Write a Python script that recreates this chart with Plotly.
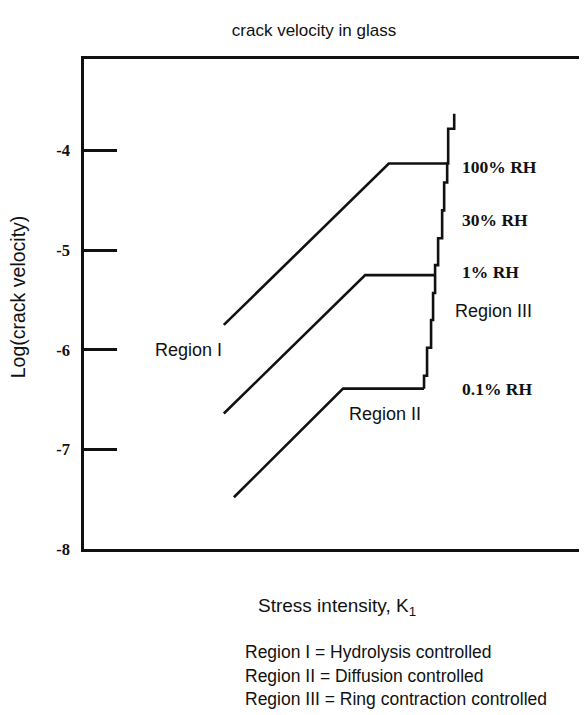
import plotly.graph_objects as go

# ---- data ----
# Stress intensity (arbitrary units) vs log(crack velocity)
k_rh100 = [2.78, 6.06, 7.22]
v_rh100 = [-5.75, -4.13, -4.13]

k_rh1 = [2.78, 5.59, 6.98]
v_rh1 = [-6.64, -5.25, -5.25]

k_rh01 = [2.98, 5.15, 6.76]
v_rh01 = [-7.48, -6.39, -6.39]

# Region III: steep, stepped common branch (bottom to top)
k_region3 = [6.76, 6.82, 6.90, 6.94, 6.98, 7.04, 7.12, 7.16, 7.22, 7.24, 7.36, 7.36]
v_region3 = [-6.39, -6.26, -5.98, -5.70, -5.43, -5.15, -4.88, -4.60, -4.32, -4.13, -3.78, -3.63]

y_tickvals = [-8, -7, -6, -5, -4]
y_ticktext = ["-8", "-7", "-6", "-5", "-4"]

rh_labels = ["100% RH", "30% RH", "1% RH", "0.1% RH"]
rh_label_k = [7.48, 7.47, 7.48, 7.47]
rh_label_v = [-4.16, -4.70, -5.22, -6.39]

region_labels = ["Region I", "Region II", "Region III"]
region_label_k = [1.37, 5.23, 7.34]
region_label_v = [-6.00, -6.64, -5.61]

legend_lines = [
    "Region I = Hydrolysis controlled",
    "Region II = Diffusion controlled",
    "Region III = Ring contraction controlled",
]

SANS = "Liberation Sans, Arial, sans-serif"
SERIF = "Liberation Serif, Times New Roman, serif"
INK = "#111111"

# page body has an 8px margin: figure is sized so the plot area lands where the reference has it
FIG_W, FIG_H = 579, 707

fig = go.Figure()
line_style = dict(color=INK, width=2.6)
for kx, vy in [(k_rh100, v_rh100), (k_rh1, v_rh1), (k_rh01, v_rh01)]:
    fig.add_trace(go.Scatter(x=kx, y=vy, mode="lines", line=line_style,
                             hoverinfo="skip", showlegend=False))
fig.add_trace(go.Scatter(x=k_region3, y=v_region3, mode="lines",
                         line=dict(color=INK, width=2.6, shape="vh"),
                         hoverinfo="skip", showlegend=False))

annotations = []
for t, kx, vy in zip(rh_labels, rh_label_k, rh_label_v):
    annotations.append(dict(x=kx, y=vy, xref="x", yref="y", text="<b>" + t + "</b>",
                            showarrow=False, xanchor="left", yanchor="middle",
                            font=dict(family=SERIF, size=17.5, color=INK)))
for t, kx, vy in zip(region_labels, region_label_k, region_label_v):
    annotations.append(dict(x=kx, y=vy, xref="x", yref="y", text=t,
                            showarrow=False, xanchor="left", yanchor="middle",
                            font=dict(family=SANS, size=18, color=INK)))

# axis titles
annotations.append(dict(x=-0.131, y=0.514, xref="paper", yref="paper",
                        text="Log(crack velocity)", textangle=-90, showarrow=False,
                        xanchor="center", yanchor="middle",
                        font=dict(family=SANS, size=19.5, color=INK)))
annotations.append(dict(x=0.503, y=-0.118, xref="paper", yref="paper",
                        text="Stress intensity, K<sub>1</sub>", showarrow=False,
                        xanchor="center", yanchor="middle",
                        font=dict(family=SANS, size=19, color=INK)))
for t, yy in zip(legend_lines, [-0.210, -0.259, -0.306]):
    annotations.append(dict(x=0.316, y=yy, xref="paper", yref="paper", text=t,
                            showarrow=False, xanchor="left", yanchor="middle",
                            font=dict(family=SANS, size=17.5, color=INK)))

fig.update_layout(
    width=FIG_W, height=FIG_H, autosize=False,
    margin=dict(l=76, r=0, t=51, b=166),
    paper_bgcolor="white", plot_bgcolor="white",
    title=dict(text="crack velocity in glass", x=(314 - 8) / FIG_W, xanchor="center",
               y=1 - 22 / FIG_H, yanchor="middle", yref="container",
               font=dict(family=SANS, size=17, color=INK)),
    xaxis=dict(range=[0, 10], showline=True, linewidth=2.6, linecolor=INK,
               mirror=True, showgrid=False, zeroline=False, ticks="",
               showticklabels=False, fixedrange=True),
    yaxis=dict(range=[-8, -3.08], showline=True, linewidth=2.6, linecolor=INK,
               mirror=False, showgrid=False, zeroline=False,
               ticks="inside", ticklen=33, tickwidth=2.6, tickcolor=INK,
               tickvals=y_tickvals, ticktext=y_ticktext,
               ticklabelstandoff=8,
               tickfont=dict(family=SERIF, size=16.5, color=INK, weight="bold"),
               fixedrange=True),
    annotations=annotations,
    showlegend=False,
)

fig.write_html("out.html", config={"displayModeBar": False})
